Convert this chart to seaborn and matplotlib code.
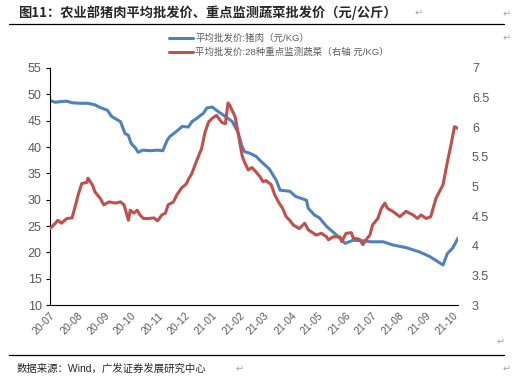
import pandas as pd
import matplotlib.pyplot as plt
import matplotlib.dates as mdates
import seaborn as sns

# pork wholesale price (left axis, yuan/kg)
pork_dates = [
    "2020-07-01", "2020-07-07", "2020-07-12", "2020-07-20", "2020-07-26", "2020-08-04",
    "2020-08-13", "2020-08-21", "2020-08-27", "2020-09-04", "2020-09-09", "2020-09-19",
    "2020-09-24", "2020-09-28", "2020-10-01", "2020-10-06", "2020-10-09", "2020-10-14",
    "2020-10-23", "2020-10-31", "2020-11-06", "2020-11-11", "2020-11-14", "2020-11-21",
    "2020-11-28", "2020-12-05", "2020-12-09", "2020-12-15", "2020-12-22", "2020-12-26",
    "2021-01-01", "2021-01-08", "2021-01-16", "2021-01-24", "2021-01-30", "2021-02-04",
    "2021-02-07", "2021-02-13", "2021-02-20", "2021-02-24", "2021-03-07", "2021-03-15",
    "2021-03-19", "2021-03-30", "2021-04-06", "2021-04-18", "2021-04-20", "2021-04-27",
    "2021-05-03", "2021-05-11", "2021-05-22", "2021-06-01", "2021-06-10", "2021-06-21",
    "2021-06-30", "2021-07-14", "2021-07-25", "2021-08-09", "2021-08-24", "2021-09-05",
    "2021-09-20", "2021-09-25", "2021-10-01", "2021-10-07",
]
pork = [
    48.8, 48.5, 48.6, 48.7, 48.4, 48.3,
    48.3, 48.0, 47.5, 47.0, 45.8, 44.8,
    42.6, 42.2, 40.7, 39.8, 39.0, 39.4,
    39.3, 39.4, 39.3, 41.3, 42.0, 42.9,
    43.9, 43.8, 44.8, 45.5, 46.4, 47.4,
    47.6, 46.7, 45.8, 44.8, 42.9, 40.1,
    39.1, 38.8, 38.2, 37.5, 35.8, 33.6,
    31.8, 31.6, 30.6, 29.9, 28.4, 27.1,
    26.5, 24.9, 23.3, 21.7, 22.3, 22.2,
    22.0, 22.0, 21.4, 20.9, 20.1, 19.2,
    17.6, 19.8, 20.8, 22.7,
]

# 28 key vegetables wholesale price (right axis, yuan/kg)
veg_dates = [
    "2020-07-01", "2020-07-07", "2020-07-10", "2020-07-14", "2020-07-20", "2020-07-26",
    "2020-07-29", "2020-08-02", "2020-08-06", "2020-08-12", "2020-08-13", "2020-08-18",
    "2020-08-21", "2020-08-27", "2020-08-31", "2020-09-06", "2020-09-13", "2020-09-19",
    "2020-09-23", "2020-09-28", "2020-09-30", "2020-10-04", "2020-10-08", "2020-10-11",
    "2020-10-15", "2020-10-21", "2020-10-27", "2020-10-31", "2020-11-05", "2020-11-09",
    "2020-11-12", "2020-11-18", "2020-11-22", "2020-11-27", "2020-12-03", "2020-12-05",
    "2020-12-09", "2020-12-14", "2020-12-20", "2020-12-24", "2020-12-28", "2021-01-01",
    "2021-01-06", "2021-01-12", "2021-01-16", "2021-01-19", "2021-01-21", "2021-01-27",
    "2021-01-31", "2021-02-04", "2021-02-07", "2021-02-11", "2021-02-15", "2021-02-19",
    "2021-02-24", "2021-02-28", "2021-03-03", "2021-03-09", "2021-03-13", "2021-03-18",
    "2021-03-22", "2021-03-26", "2021-03-30", "2021-04-03", "2021-04-10", "2021-04-16",
    "2021-04-20", "2021-04-29", "2021-05-05", "2021-05-11", "2021-05-13", "2021-05-18",
    "2021-05-26", "2021-05-28", "2021-06-02", "2021-06-08", "2021-06-10", "2021-06-17",
    "2021-06-21", "2021-06-25", "2021-06-29", "2021-07-02", "2021-07-08", "2021-07-12",
    "2021-07-16", "2021-07-19", "2021-07-25", "2021-08-02", "2021-08-09", "2021-08-17",
    "2021-08-22", "2021-08-26", "2021-09-01", "2021-09-06", "2021-09-12", "2021-09-20",
    "2021-09-25", "2021-09-29", "2021-10-03", "2021-10-07",
]
veg = [
    4.29, 4.38, 4.43, 4.38, 4.46, 4.47,
    4.63, 4.86, 5.05, 5.07, 5.14, 5.03,
    4.91, 4.80, 4.69, 4.74, 4.72, 4.74,
    4.69, 4.43, 4.60, 4.55, 4.60, 4.52,
    4.46, 4.46, 4.47, 4.42, 4.52, 4.55,
    4.69, 4.74, 4.86, 4.97, 5.05, 5.12,
    5.22, 5.42, 5.64, 5.92, 6.09, 6.15,
    6.20, 6.08, 6.06, 6.41, 6.37, 6.18,
    5.86, 5.52, 5.40, 5.28, 5.32, 5.26,
    5.17, 5.08, 5.10, 5.03, 4.86, 4.72,
    4.63, 4.49, 4.43, 4.35, 4.29, 4.38,
    4.27, 4.18, 4.21, 4.15, 4.10, 4.15,
    4.15, 4.07, 4.21, 4.22, 4.13, 4.11,
    4.02, 4.11, 4.18, 4.35, 4.46, 4.63,
    4.72, 4.63, 4.58, 4.49, 4.58, 4.52,
    4.46, 4.52, 4.46, 4.49, 4.80, 5.03,
    5.42, 5.70, 6.01, 5.98,
]

pork_label = "平均批发价:猪肉（元/KG）"
veg_label = "平均批发价:28种重点监测蔬菜（右轴 元/KG）"
title = "图11：农业部猪肉平均批发价、重点监测蔬菜批发价（元/公斤）"
source = "数据来源：Wind，广发证券发展研究中心"

df_pork = pd.DataFrame({"date": pd.to_datetime(pork_dates), "value": pork})
df_veg = pd.DataFrame({"date": pd.to_datetime(veg_dates), "value": veg})

sns.set_style("white")
plt.rcParams["font.family"] = ["Liberation Sans", "Noto Sans CJK SC", "DejaVu Sans"]

blue = "#4F81BD"
red = "#C0504D"
grey = "#595959"

fig = plt.figure(figsize=(5.14, 3.85), dpi=100)
ax = fig.add_axes([50 / 514, 1 - 305 / 385, 408 / 514, 237 / 385])
ax2 = ax.twinx()

sns.lineplot(data=df_pork, x="date", y="value", ax=ax, color=blue, linewidth=2.2, label=pork_label, legend=False)
sns.lineplot(data=df_veg, x="date", y="value", ax=ax2, color=red, linewidth=2.2, label=veg_label, legend=False)

ax.set_xlim(pd.Timestamp("2020-07-01"), pd.Timestamp("2021-10-07"))
ax.set_ylim(10, 55)
ax.set_yticks(range(10, 56, 5))
ax2.set_ylim(3, 7)
ax2.set_yticks([3, 3.5, 4, 4.5, 5, 5.5, 6, 6.5, 7])
ax2.set_yticklabels(["3", "3.5", "4", "4.5", "5", "5.5", "6", "6.5", "7"])

ax.xaxis.set_major_locator(mdates.MonthLocator())
ax.xaxis.set_major_formatter(mdates.DateFormatter("%y-%m"))
for lab in ax.get_xticklabels():
    lab.set_rotation(45)
    lab.set_ha("right")
    lab.set_rotation_mode("anchor")

ax.set_xlabel("")
ax.set_ylabel("")
ax2.set_ylabel("")

for a in (ax, ax2):
    for s in a.spines.values():
        s.set_visible(False)
ax.spines["left"].set_visible(True)
ax.spines["bottom"].set_visible(True)
ax.spines["left"].set_color("black")
ax.spines["bottom"].set_color("black")
ax.spines["left"].set_linewidth(0.8)
ax.spines["bottom"].set_linewidth(0.8)

ax.tick_params(axis="y", direction="out", length=3, width=0.8, color="black",
               labelsize=9, labelcolor=grey, pad=3)
ax.tick_params(axis="x", direction="inout", length=4, width=0.8, color="black",
               labelsize=7.5, labelcolor=grey, pad=2)
ax2.tick_params(axis="y", length=0, labelsize=9, labelcolor=grey, pad=10)

# legend
h1, l1 = ax.get_legend_handles_labels()
h2, l2 = ax2.get_legend_handles_labels()
fig.legend(h1 + h2, l1 + l2, loc="upper left", bbox_to_anchor=(165 / 514, 1 - 30 / 385),
           frameon=False, fontsize=6.8, labelcolor=grey, handlelength=2.6,
           handletextpad=0.2, labelspacing=0.5, borderaxespad=0)

# title and source
fig.text(18 / 514, 1 - 13 / 385, title, fontsize=9.5, fontweight="bold", va="center", ha="left",
         family=["Noto Sans CJK SC"])
fig.add_artist(plt.Line2D([9 / 514, 504 / 514], [1 - 24 / 385, 1 - 24 / 385], color="black", linewidth=0.9))
fig.add_artist(plt.Line2D([9 / 514, 504 / 514], [1 - 355 / 385, 1 - 355 / 385], color="black", linewidth=0.9))
fig.text(17 / 514, 1 - 369 / 385, source, fontsize=7.5, va="center", ha="left")

for (px, py) in [(415, 13), (503, 14), (503, 38), (497, 342), (503, 369), (236, 369)]:
    fig.text(px / 514, 1 - py / 385, "↵", fontsize=7, color="#A6A6A6", va="center", ha="left",
             family=["DejaVu Sans"])

plt.savefig("out.png", dpi=100)
plt.close()
